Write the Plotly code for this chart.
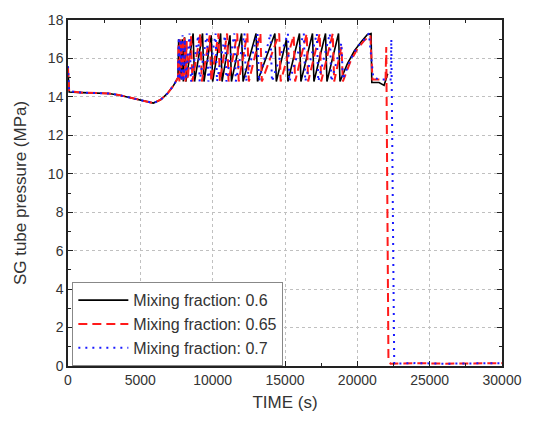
import plotly.graph_objects as go

# Turning points of each SG tube pressure history (time in s, pressure in MPa)
t_mf060 = [0, 80, 1000, 2000, 2800, 3500, 4300, 5100, 5900, 6400, 6900, 7300, 7600,
           7650, 7710, 7770, 7830, 7900, 7970, 8060, 8150,
           8650, 8750, 9300, 9400, 9900, 10000, 10550, 10650, 11200, 11300, 12000, 12100,
           13000, 13100, 14300, 14400, 15100, 15200, 16000, 16100, 16900, 17000,
           17800, 17900, 18700, 18800,
           19300, 19800, 20300, 20700, 20950, 21000, 21500, 21850, 22100]
p_mf060 = [15.4, 14.25, 14.22, 14.2, 14.18, 14.1, 13.95, 13.8, 13.68, 13.85, 14.2, 14.6, 15.0,
           17.0, 15.0, 16.9, 14.9, 17.0, 14.8, 17.1, 14.8,
           17.3, 14.8, 17.3, 14.8, 17.2, 14.8, 17.3, 14.8, 17.2, 14.8, 17.3, 14.8,
           17.3, 14.8, 17.3, 14.8, 17.0, 14.8, 17.3, 14.8, 17.3, 14.8,
           17.3, 14.8, 17.3, 14.8,
           15.7, 16.4, 16.9, 17.25, 17.3, 14.75, 14.75, 14.6, 15.2]

t_mf065 = [0, 80, 1000, 2000, 2800, 3500, 4300, 5100, 5900, 6400, 6900, 7300, 7600,
           7640, 7700, 7760, 7820, 7880, 7950, 8030, 8120, 8200, 8280,
           8500, 8600, 9150, 9250, 9800, 9900, 10400, 10500, 11000, 11100, 11700, 11800,
           12400, 12500, 13300, 13400, 14600, 14700, 15600, 15700, 16500, 16600,
           17400, 17500, 18300, 18400, 18900, 19000,
           19500, 20000, 20500, 20900, 21050, 21500, 21950, 22000, 22150, 22300,
           24000, 26000, 28000, 30000]
p_mf065 = [15.5, 14.3, 14.22, 14.2, 14.18, 14.1, 13.95, 13.8, 13.68, 13.85, 14.2, 14.6, 15.0,
           16.8, 14.8, 17.0, 15.0, 16.9, 14.8, 17.1, 14.8, 16.9, 14.9,
           17.2, 14.8, 17.3, 14.8, 17.2, 14.8, 17.3, 14.8, 17.3, 14.8, 17.3, 14.8,
           17.3, 14.8, 17.3, 14.8, 17.3, 14.8, 17.2, 14.8, 17.3, 14.8,
           17.3, 14.8, 17.3, 14.8, 16.6, 14.8,
           15.8, 16.5, 16.95, 17.2, 14.9, 14.9, 14.9, 16.6, 0.3, 0.12,
           0.15, 0.12, 0.15, 0.15]

t_mf070 = [0, 80, 1000, 2000, 2800, 3500, 4300, 5100, 5900, 6400, 6900, 7300, 7600,
           7660, 7720, 7790, 7850, 7920, 8000, 8080, 8160,
           8400, 8500, 9000, 9100, 9600, 9700, 10200, 10300, 10850, 10950, 11500, 11600,
           12200, 12300, 13100, 13200, 14000, 14100, 15200, 15300, 16300, 16400,
           17200, 17300, 18100, 18200, 18900, 19000,
           19500, 20000, 20500, 20800, 21100, 21600, 22300, 22350, 22550,
           24000, 26000, 28000, 30000]
p_mf070 = [15.6, 14.3, 14.22, 14.2, 14.18, 14.1, 13.95, 13.8, 13.68, 13.85, 14.2, 14.6, 15.0,
           17.1, 14.9, 17.0, 14.8, 17.2, 14.8, 17.0, 14.9,
           17.3, 14.8, 17.2, 14.8, 17.3, 14.8, 17.3, 14.8, 17.2, 14.8, 17.3, 14.8,
           17.3, 14.8, 17.3, 14.8, 17.3, 14.8, 17.3, 14.8, 17.3, 14.8,
           17.3, 14.8, 17.3, 14.8, 16.8, 14.9,
           15.9, 16.6, 17.0, 17.3, 15.0, 14.9, 14.9, 17.0, 0.12,
           0.15, 0.12, 0.15, 0.15]

series_names = ["Mixing fraction: 0.6", "Mixing fraction: 0.65", "Mixing fraction: 0.7"]

x_ticks = [0, 5000, 10000, 15000, 20000, 25000, 30000]
y_ticks = [0, 2, 4, 6, 8, 10, 12, 14, 16, 18]

fig = go.Figure()
fig.add_trace(go.Scatter(x=t_mf060, y=p_mf060, mode="lines", name=series_names[0],
                         line=dict(color="black", width=1.6)))
fig.add_trace(go.Scatter(x=t_mf065, y=p_mf065, mode="lines", name=series_names[1],
                         line=dict(color="#ff1a1a", width=2, dash="9px,5px")))
fig.add_trace(go.Scatter(x=t_mf070, y=p_mf070, mode="lines", name=series_names[2],
                         line=dict(color="#1a1aff", width=2, dash="2px,5px")))

font_family = "Liberation Sans, Arial, sans-serif"
axis_common = dict(
    showline=True, linecolor="#222", linewidth=1.5, mirror="allticks",
    ticks="inside", ticklen=5, tickwidth=1, tickcolor="#222",
    showgrid=True, gridcolor="#c0c0c0", griddash="dot", gridwidth=1,
    zeroline=False,
    tickfont=dict(family=font_family, size=14, color="#333"),
    title_font=dict(family=font_family, size=17, color="#333"),
)

fig.update_xaxes(range=[0, 30000], tickvals=x_ticks, ticktext=[str(v) for v in x_ticks],
                 title_text="TIME (s)", title_standoff=10,
                 minor=dict(ticks="inside", ticklen=3, dtick=2500, tickcolor="#222", showgrid=False),
                 **axis_common)
fig.update_yaxes(range=[0, 18], tickvals=y_ticks, ticktext=[str(v) for v in y_ticks],
                 title_text="SG tube pressure (MPa)", title_standoff=17,
                 minor=dict(ticks="inside", ticklen=3, dtick=1, tickcolor="#222", showgrid=False),
                 **axis_common)

fig.update_layout(
    width=539, height=421,
    margin=dict(l=68, r=37, t=15, b=55),
    plot_bgcolor="white", paper_bgcolor="white",
    font=dict(family=font_family, color="#333"),
    legend=dict(x=0.01, y=0.242, xanchor="left", yanchor="top",
                bgcolor="white", bordercolor="#888", borderwidth=1,
                font=dict(family=font_family, size=16, color="#333"),
                itemwidth=50, tracegroupgap=0),
    showlegend=True,
)

fig.write_html("out.html")
